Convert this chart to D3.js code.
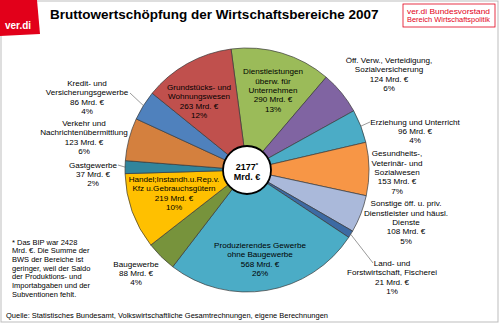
<!DOCTYPE html>
<html>
<head>
<meta charset="utf-8">
<script src="https://cdn.jsdelivr.net/npm/d3@7"></script>
<style>
  body { margin: 0; background: #fff; }
  text { font-family: "Liberation Sans", Arial, sans-serif; }
</style>
</head>
<body>
<div id="chart"></div>
<script>
// Bruttowertschöpfung 2007
var sectors = [
  "Dienstleistungen\nüberw. für\nUnternehmen",
  "Öff. Verw., Verteidigung,\nSozialversicherung",
  "Erziehung und Unterricht",
  "Gesundheits-,\nVeterinär- und\nSozialwesen",
  "Sonstige öff. u. priv.\nDienstleister und häusl.\nDienste",
  "Land- und\nForstwirtschaft, Fischerei",
  "Produzierendes Gewerbe\nohne Baugewerbe",
  "Baugewerbe",
  "Handel;Instandh.u.Rep.v.\nKfz u.Gebrauchsgütern",
  "Gastgewerbe",
  "Verkehr und\nNachrichtenübermittlung",
  "Kredit- und\nVersicherungsgewerbe",
  "Grundstücks- und\nWohnungswesen"
];
var values = [290, 124, 96, 153, 108, 21, 568, 88, 219, 37, 123, 86, 263];
var total = 2177;
var footnote = ["* Das BIP war 2428", "Mrd. €. Die Summe der", "BWS der Bereiche ist",
  "geringer, weil der Saldo", "der Produktions- und", "Importabgaben und der", "Subventionen fehlt."];

var colors = ["#9BBB59", "#8064A2", "#4BACC6", "#F79646", "#AAB9DA", "#3D6AA3", "#4BACC6",
  "#77933C", "#FFC000", "#31859C", "#D4803E", "#4F81BD", "#C0504D"];

// label placement relative to pie centre (block centre), optional leader end
var labelLayout = [
  { dx: 26, dy: -80 }, { dx: 142, dy: -96 }, { dx: 168, dy: -39, lead: [123, -48] },
  { dx: 150, dy: 2 }, { dx: 159, dy: 52 }, { dx: 145, dy: 107, lead: [126, 93] },
  { dx: 13, dy: 89 }, { dx: -111, dy: 103 }, { dx: -73, dy: 23 },
  { dx: -154, dy: 4, lead: [-129, -5] }, { dx: -163, dy: -33 },
  { dx: -160, dy: -73, lead: [-117, -77] }, { dx: -48, dy: -69 }
];

var svgWidth = 500, svgHeight = 324;
var cx = 247, cy = 170, radius = 122;

var svg = d3.select("#chart").append("svg")
  .attr("width", svgWidth)
  .attr("height", svgHeight);

// frame
svg.append("rect")
  .attr("x", 1).attr("y", 1)
  .attr("width", 497).attr("height", 321)
  .attr("fill", "#fff").attr("stroke", "#bdbdbd");

// logo
svg.append("path")
  .attr("d", "M0,0 L37,0 L40,34 L0,36 Z")
  .attr("fill", "#E2001A");
svg.append("text")
  .attr("x", 5).attr("y", 28.5)
  .attr("fill", "#fff").attr("font-weight", "bold").attr("font-size", 10)
  .text("ver.di");

// title
svg.append("text")
  .attr("x", 50).attr("y", 18.5)
  .attr("font-weight", "bold").attr("font-size", 13.5)
  .text("Bruttowertschöpfung der Wirtschaftsbereiche 2007");

// box top right
svg.append("rect")
  .attr("x", 403).attr("y", 4).attr("width", 92).attr("height", 23)
  .attr("fill", "#fff").attr("stroke", "#E2001A").attr("stroke-width", 0.8);
svg.append("text")
  .attr("x", 407).attr("y", 13.5).attr("fill", "#E2001A").attr("font-size", 8)
  .attr("textLength", 83).attr("lengthAdjust", "spacingAndGlyphs")
  .text("ver.di Bundesvorstand");
svg.append("text")
  .attr("x", 407).attr("y", 22).attr("fill", "#E2001A").attr("font-size", 8)
  .attr("textLength", 83).attr("lengthAdjust", "spacingAndGlyphs")
  .text("Bereich Wirtschaftspolitik");

// pie
var start = -7.5 * Math.PI / 180;
var pie = d3.pie().sort(null).startAngle(start).endAngle(start + 2 * Math.PI);
var arcs = pie(values);
var arc = d3.arc().innerRadius(0).outerRadius(radius);
var edge = d3.arc().innerRadius(radius).outerRadius(radius);

var pieGroup = svg.append("g").attr("transform", `translate(${cx}, ${cy})`);

pieGroup.selectAll("path.slice")
  .data(arcs)
  .enter()
  .append("path")
  .attr("class", "slice")
  .attr("d", arc)
  .attr("fill", (d, i) => colors[i])
  .attr("stroke", "#3a3a3a")
  .attr("stroke-width", 0.7);

// leader lines
pieGroup.selectAll("line.lead")
  .data(arcs.filter((d, i) => labelLayout[i].lead))
  .enter()
  .append("line")
  .attr("class", "lead")
  .attr("x1", d => edge.centroid(d)[0])
  .attr("y1", d => edge.centroid(d)[1])
  .attr("x2", d => labelLayout[d.index].lead[0])
  .attr("y2", d => labelLayout[d.index].lead[1])
  .attr("stroke", "#555")
  .attr("stroke-width", 0.6);

// data labels
var lineH = 9.4;
var labels = pieGroup.selectAll("text.lbl")
  .data(arcs)
  .enter()
  .append("text")
  .attr("class", "lbl")
  .attr("font-size", 8.1)
  .attr("text-anchor", "middle")
  .attr("fill", "#000");

labels.each(function(d, i) {
  var lines = sectors[i].split("\n");
  lines.push(values[i] + " Mrd. €");
  lines.push(Math.round(values[i] / total * 100) + "%");
  var top = labelLayout[i].dy - (lines.length - 1) * lineH / 2 + 3;
  d3.select(this).selectAll("tspan")
    .data(lines)
    .enter()
    .append("tspan")
    .attr("x", labelLayout[i].dx)
    .attr("y", (t, k) => top + k * lineH)
    .text(t => t);
});

// centre circle
pieGroup.append("circle")
  .attr("r", 24)
  .attr("fill", "#fff")
  .attr("stroke", "#000")
  .attr("stroke-width", 1.8);
var ct = pieGroup.append("text")
  .attr("text-anchor", "middle")
  .attr("font-weight", "bold")
  .attr("font-size", 9);
ct.append("tspan").attr("x", 0).attr("y", -0.5).text(total)
  .append("tspan").attr("font-size", 6).attr("dy", -2.5).text("*");
ct.append("tspan").attr("x", 0).attr("y", 9.5).text("Mrd. €");

// footnote
svg.append("g").selectAll("text")
  .data(footnote)
  .enter()
  .append("text")
  .attr("x", 12)
  .attr("y", (d, i) => 244.5 + i * 8.7)
  .attr("font-size", 7.5)
  .text(d => d);

// source
svg.append("text")
  .attr("x", 6).attr("y", 318)
  .attr("font-size", 8)
  .attr("textLength", 322).attr("lengthAdjust", "spacingAndGlyphs")
  .text("Quelle: Statistisches Bundesamt, Volkswirtschaftliche Gesamtrechnungen, eigene Berechnungen");
</script>
</body>
</html>
